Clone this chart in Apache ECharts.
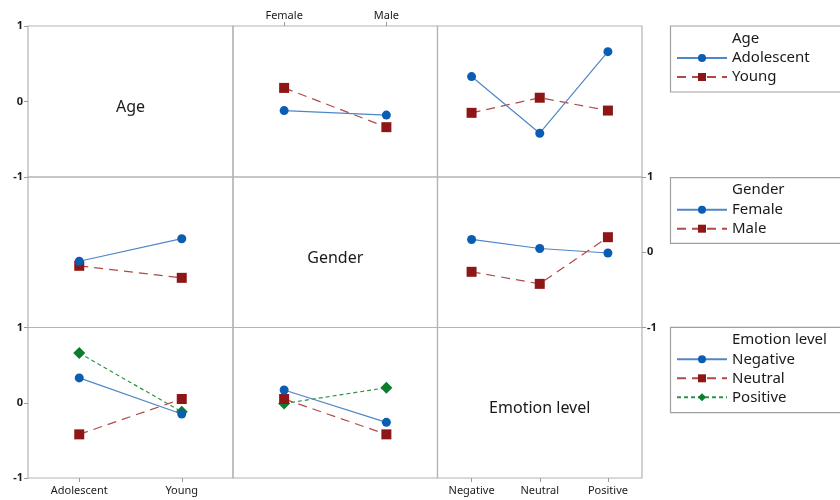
<!DOCTYPE html>
<html>
<head>
<meta charset="utf-8">
<script src="https://cdn.jsdelivr.net/npm/echarts@6/dist/echarts.min.js"></script>
<style>html,body{margin:0;padding:0;background:#fff}#c{width:840px;height:500px}</style>
</head>
<body>
<div id="c"></div>
<script>
// ---- data ----
const factorNames = ['Age', 'Gender', 'Emotion level'];
const ageLevels = ['Adolescent', 'Young'];
const genderLevels = ['Female', 'Male'];
const emotionLevels = ['Negative', 'Neutral', 'Positive'];
const yTicks = [-1, 0, 1];

// Age x Gender (rows: age level, cols: gender level)
const adolescentByGender = [-0.12, -0.18];
const youngByGender = [0.18, -0.34];
// Age x Emotion level
const adolescentByEmotion = [0.33, -0.42, 0.66];
const youngByEmotion = [-0.15, 0.05, -0.12];
// Gender x Emotion level
const femaleByEmotion = [0.17, 0.05, -0.01];
const maleByEmotion = [-0.26, -0.42, 0.20];

// ---- build ----
const levels = [ageLevels, genderLevels, emotionLevels];
const pairTables = {
  '0-1': [adolescentByGender, youngByGender],
  '0-2': [adolescentByEmotion, youngByEmotion],
  '1-2': [femaleByEmotion, maleByEmotion]
};
function table(r, c) {
  if (r < c) return pairTables[r + '-' + c];
  const t = pairTables[c + '-' + r];
  return levels[r].map((_, k) => t.map(row => row[k]));
}

const X = [28, 233, 437.5, 642];
const Y = [26, 177, 327.5, 478];
const BORDER = '#b4b4b4';
const TXT = '#1a1a1a';
const styles = [
  { color: '#0b5cb3', line: '#4f86c6', symbol: 'circle', size: 9, type: 'solid', width: 1.2 },
  { color: '#8e1616', line: '#b04a4a', symbol: 'rect', size: 10, type: [9, 6], width: 1.2 },
  { color: '#0c7d2c', line: '#2f9447', symbol: 'diamond', size: 12, type: [4, 3], width: 1.2 }
];

const grid = [], xAxis = [], yAxis = [], series = [], graphic = [];
for (let i = 0; i < 3; i++) {
  for (let j = 0; j < 3; j++) {
    const g = i * 3 + j;
    grid.push({ left: X[j], top: Y[i], width: X[j + 1] - X[j], height: Y[i + 1] - Y[i],
      show: true, borderColor: BORDER, borderWidth: 1.2, backgroundColor: 'transparent' });
    const showX = (i === 0 && j === 1) || (i === 2 && j !== 1);
    const top = (i === 0 && j === 1);
    xAxis.push({ type: 'category', gridIndex: g, data: levels[j], boundaryGap: true,
      position: top ? 'top' : 'bottom',
      axisLine: { show: false, onZero: false },
      axisTick: { show: showX, alignWithLabel: true, length: 4, lineStyle: { color: '#999' } },
      axisLabel: { show: showX, fontSize: 11, color: TXT, margin: top ? 5 : 7, fontFamily: 'Noto Sans' },
      splitLine: { show: false } });
    const showY = (i === 0 && j === 0) || (i === 1 && j === 2) || (i === 2 && j === 0);
    yAxis.push({ type: 'value', gridIndex: g, min: yTicks[0], max: yTicks[2], interval: 1,
      position: i === 1 ? 'right' : 'left',
      axisLine: { show: false, onZero: false },
      axisTick: { show: showY, length: 4, lineStyle: { color: '#999' } },
      axisLabel: { show: showY, fontSize: 11, fontWeight: 'bold', color: TXT, margin: 5, fontFamily: 'Noto Sans' },
      splitLine: { show: false } });
    if (i === j) {
      graphic.push({ type: 'text', x: (X[j] + X[j + 1]) / 2, y: (Y[i] + Y[i + 1]) / 2 + 6,
        style: { text: factorNames[i], fill: TXT, font: '16px "Noto Sans"', align: 'center', verticalAlign: 'middle' } });
      continue;
    }
    const t = table(i, j);
    levels[i].forEach((name, k) => {
      const s = styles[k];
      series.push({ type: 'line', name: name, xAxisIndex: g, yAxisIndex: g, data: t[k],
        symbol: s.symbol, symbolSize: s.size, showSymbol: true, animation: false,
        itemStyle: { color: s.color },
        lineStyle: { color: s.line, width: s.width, type: s.type },
        z: 3 - k });
    });
  }
}

// legends
const legendBoxes = [[26, 92], [177.7, 243.3], [327.3, 412.7]];
const legend = [];
for (let i = 0; i < 3; i++) {
  const [y0, y1] = legendBoxes[i];
  graphic.push({ type: 'rect', shape: { x: 670.5, y: y0, width: 200, height: y1 - y0 },
    style: { fill: 'none', stroke: '#a0a0a0', lineWidth: 1.2 } });
  graphic.push({ type: 'text', x: 732, y: y0 + 12.5,
    style: { text: factorNames[i], fill: TXT, font: '15px "Noto Sans"', align: 'left', verticalAlign: 'middle' } });
  legend.push({ orient: 'vertical', left: 676, top: y0 + 22.5, padding: 0,
    itemWidth: 50, itemHeight: 10, itemGap: 0, selectedMode: false,
    data: levels[i],
    textStyle: { fontSize: 15, color: TXT, lineHeight: 19, fontFamily: 'Noto Sans' } });
}

const chart = echarts.init(document.getElementById('c'), null, { renderer: 'canvas' });
chart.setOption({ animation: false, backgroundColor: '#fff', grid, xAxis, yAxis, series, legend, graphic });
</script>
</body>
</html>
